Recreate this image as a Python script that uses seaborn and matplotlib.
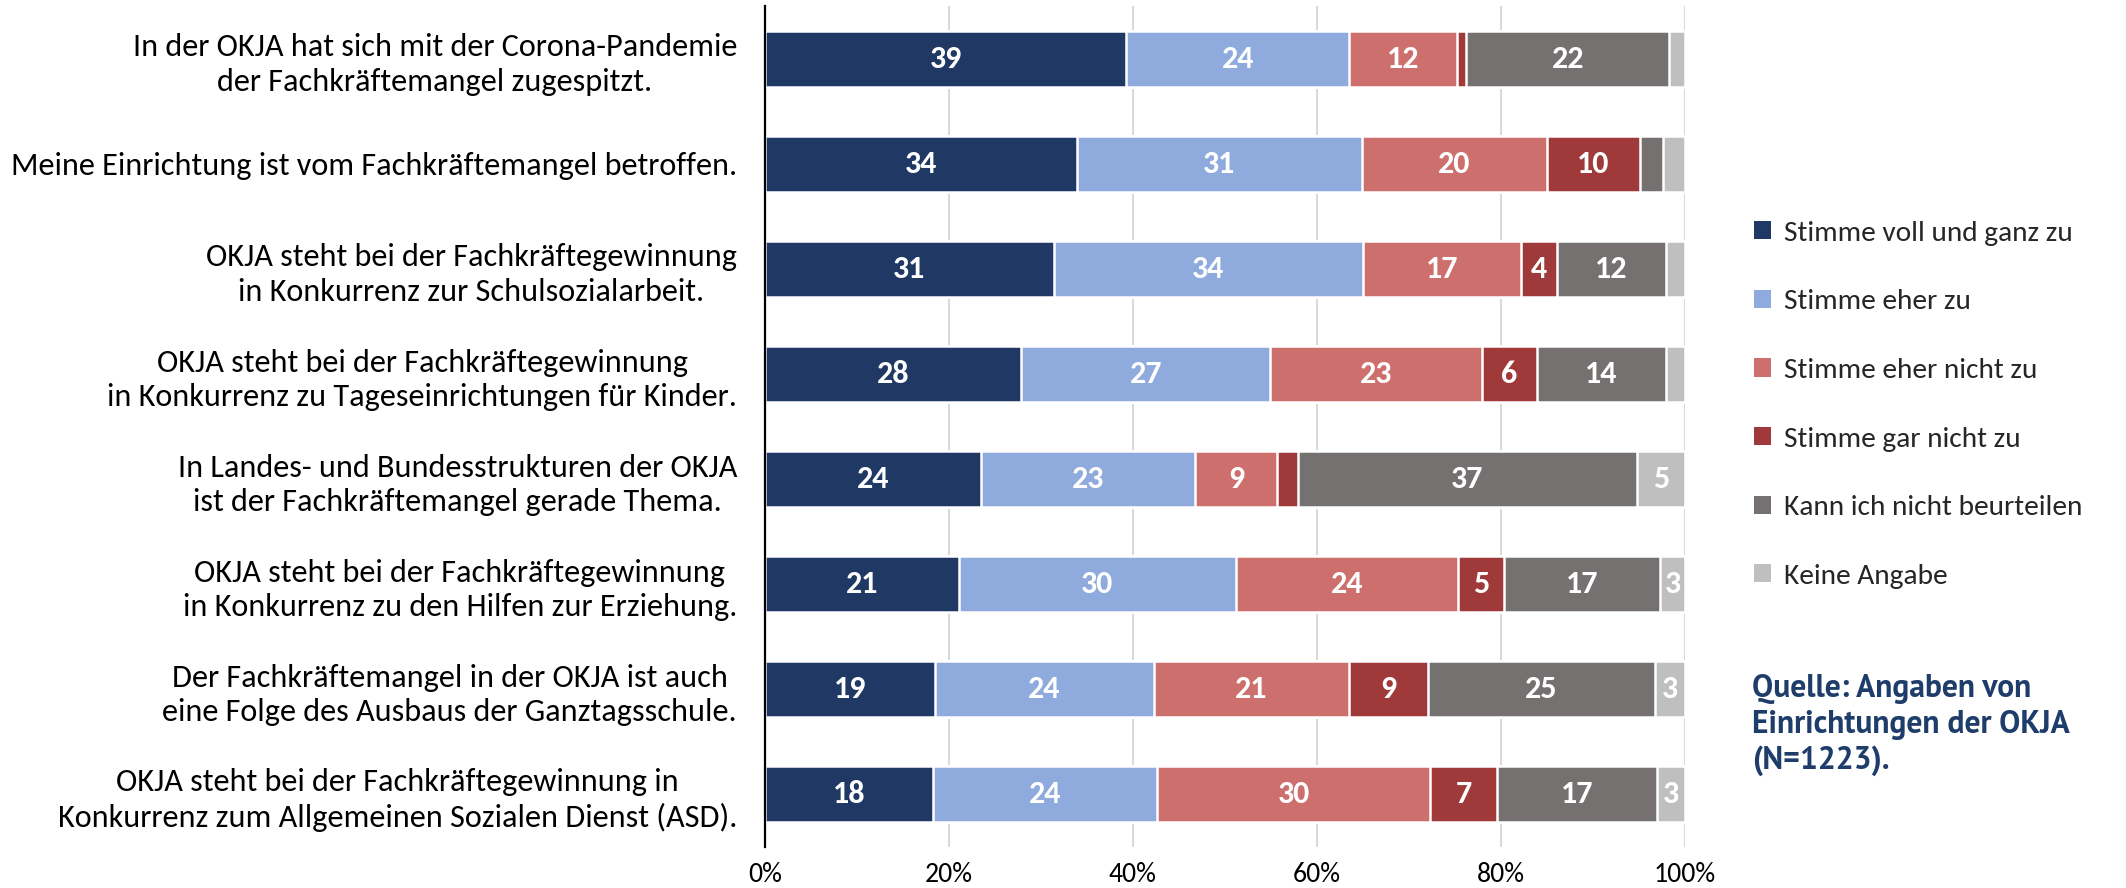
import numpy as np
import pandas as pd
import matplotlib
matplotlib.use("Agg")
import matplotlib.pyplot as plt
import seaborn as sns
from matplotlib.patches import Patch

categories = [
    "In der OKJA hat sich mit der Corona-Pandemie\nder Fachkräftemangel zugespitzt.",
    "Meine Einrichtung ist vom Fachkräftemangel betroffen.",
    "OKJA steht bei der Fachkräftegewinnung\nin Konkurrenz zur Schulsozialarbeit.",
    "OKJA steht bei der Fachkräftegewinnung\nin Konkurrenz zu Tageseinrichtungen für Kinder.",
    "In Landes- und Bundesstrukturen der OKJA\nist der Fachkräftemangel gerade Thema.",
    "OKJA steht bei der Fachkräftegewinnung\nin Konkurrenz zu den Hilfen zur Erziehung.",
    "Der Fachkräftemangel in der OKJA ist auch\neine Folge des Ausbaus der Ganztagsschule.",
    "OKJA steht bei der Fachkräftegewinnung in\nKonkurrenz zum Allgemeinen Sozialen Dienst (ASD).",
]
series_names = [
    "Stimme voll und ganz zu",
    "Stimme eher zu",
    "Stimme eher nicht zu",
    "Stimme gar nicht zu",
    "Kann ich nicht beurteilen",
    "Keine Angabe",
]
voll_und_ganz = [39.3, 33.9, 31.4, 27.9, 23.5, 21.1, 18.5, 18.3]
eher_zu = [24.2, 31.0, 33.6, 27.0, 23.2, 30.1, 23.8, 24.3]
eher_nicht = [11.7, 20.1, 17.2, 23.0, 9.0, 24.1, 21.2, 29.7]
gar_nicht = [1.0, 10.1, 3.9, 6.0, 2.2, 5.0, 8.6, 7.3]
kann_nicht = [22.1, 2.5, 11.8, 14.0, 36.9, 17.0, 24.6, 17.4]
keine_angabe = [1.7, 2.4, 2.1, 2.1, 5.2, 2.7, 3.3, 3.0]
colors = ["#203864", "#8FAADC", "#CD706D", "#A03A3A", "#767171", "#BFBFBF"]
tick_labels = ["0%", "20%", "40%", "60%", "80%", "100%"]
source_text = "Quelle: Angaben von\nEinrichtungen der OKJA\n(N=1223)."

sns.set_theme(style="white")
main_font = ["Carlito", "Lato", "DejaVu Sans"]
plt.rcParams["font.family"] = main_font

vals = np.array([voll_und_ganz, eher_zu, eher_nicht, gar_nicht, kann_nicht, keine_angabe])
cum = np.cumsum(vals, axis=0)

fig = plt.figure(figsize=(21.26, 8.88), dpi=100)
ax = fig.add_axes([0.3597, 0.0467, 0.7926 - 0.3597, 0.9927 - 0.0467])

# draw from largest cumulative to smallest so each segment shows
for i in range(len(series_names) - 1, -1, -1):
    df = pd.DataFrame({"cat": categories, "val": cum[i]})
    sns.barplot(data=df, x="val", y="cat", orient="h", color=colors[i],
                width=0.53, edgecolor="white", linewidth=1.8, ax=ax,
                saturation=1, zorder=2)

# labels
for i in range(len(series_names)):
    for j in range(len(categories)):
        v = vals[i, j]
        if v >= 2.6:
            xc = cum[i, j] - v / 2
            ax.text(xc, j, str(int(v + 0.5)), ha="center", va="center",
                    color="white", fontsize=23, fontweight="bold", zorder=5)

ax.set_xlim(0, 100)
ax.set_ylim(len(categories) - 0.5, -0.5)
ax.set_xticks([0, 20, 40, 60, 80, 100])
ax.set_xticklabels(tick_labels, fontsize=20)
ax.set_xlabel("")
ax.set_ylabel("")
ax.tick_params(axis="x", length=0, pad=11, colors="#000000")
ax.tick_params(axis="y", length=0, pad=20, labelsize=23.2, colors="#000000")
for lbl in ax.get_yticklabels():
    lbl.set_multialignment("center")
    lbl.set_ha("right")
    lbl.set_linespacing(1.28)

ax.grid(axis="x", color="#D9D9D9", linewidth=1.5, zorder=0)
ax.grid(axis="y", visible=False)
ax.set_axisbelow(True)
for s in ["top", "right", "bottom"]:
    ax.spines[s].set_visible(False)
ax.spines["left"].set_color("black")
ax.spines["left"].set_linewidth(1.6)
ax.spines["left"].set_zorder(6)

handles = [Patch(facecolor=c, edgecolor="none") for c in colors]
fig.legend(handles, series_names, loc="upper left",
           bbox_to_anchor=(1742 / 2126, 1 - 209 / 888), frameon=False,
           fontsize=21.2, handlelength=0.57, handleheight=0.57,
           handletextpad=0.45, labelspacing=1.48, borderaxespad=0)

fig.text(1752 / 2126, 1 - 674 / 888, source_text, ha="left", va="top",
         fontsize=22.8, fontweight="bold", color="#1F3D6B", linespacing=1.25,
         family=["PT Sans", "Lato", "DejaVu Sans"])

fig.savefig("out.png", dpi=100)
